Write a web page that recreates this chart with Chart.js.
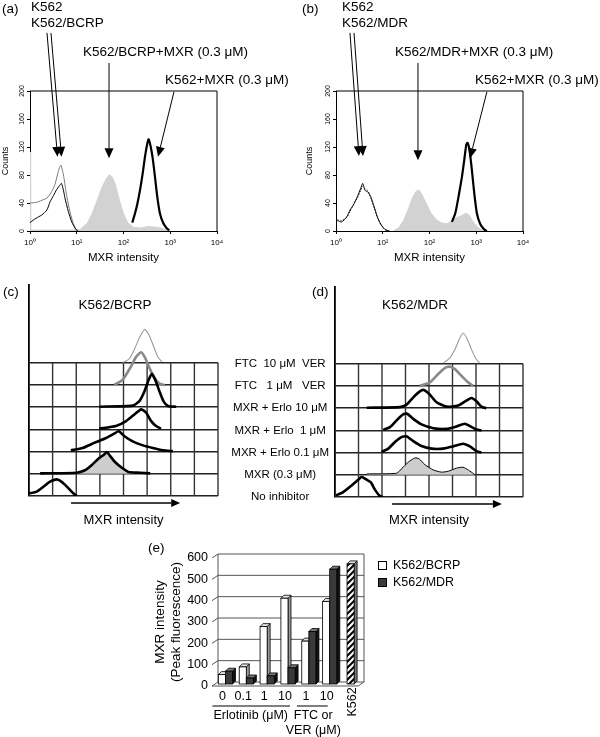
<!DOCTYPE html>
<html>
<head>
<meta charset="utf-8">
<title>MXR intensity</title>
<script src="https://cdn.jsdelivr.net/npm/chart.js@4.4.1/dist/chart.umd.min.js"></script>
<style>
  html, body { margin: 0; padding: 0; background: #fff; }
  #fig { position: relative; width: 600px; height: 737px; overflow: hidden;
         font-family: "Liberation Sans", Arial, sans-serif; color: #000; }
  #fig canvas { position: absolute; }
  .lbl { position: absolute; white-space: pre; font-size: 13.5px; line-height: 16px; }
  .mid { transform: translateX(-50%); }
</style>
</head>
<body>
<div id="fig">
  <canvas id="chartA" width="300" height="275" style="left:0;top:0"></canvas>
  <canvas id="chartB" width="300" height="275" style="left:300px;top:0"></canvas>
  <canvas id="chartC" width="228" height="260" style="left:0;top:280px"></canvas>
  <canvas id="chartD" width="300" height="260" style="left:228px;top:280px"></canvas>
  <canvas id="chartE" width="330" height="197" style="left:150px;top:540px"></canvas>

  <div class="lbl" style="left:2px;top:1px">(a)</div>
  <div class="lbl" style="left:31px;top:-1px">K562</div>
  <div class="lbl" style="left:31px;top:15px">K562/BCRP</div>
  <div class="lbl" style="left:83px;top:44px">K562/BCRP+MXR (0.3 μM)</div>
  <div class="lbl" style="left:165px;top:72px">K562+MXR (0.3 μM)</div>

  <div class="lbl" style="left:302px;top:1px">(b)</div>
  <div class="lbl" style="left:342px;top:-1px">K562</div>
  <div class="lbl" style="left:342px;top:15px">K562/MDR</div>
  <div class="lbl" style="left:395px;top:44px">K562/MDR+MXR (0.3 μM)</div>
  <div class="lbl" style="left:475px;top:72px">K562+MXR (0.3 μM)</div>

  <div class="lbl" style="left:3px;top:284px">(c)</div>
  <div class="lbl mid" style="left:115px;top:297px">K562/BCRP</div>
  <div class="lbl" style="left:312px;top:284px">(d)</div>
  <div class="lbl mid" style="left:415px;top:297px">K562/MDR</div>

  <div class="lbl" style="left:148px;top:540px">(e)</div>
</div>

<script>
// ---- (a) K562/BCRP flow histograms: [MXR intensity, counts]
const aK562 = [[1,12],[1.2,16],[1.5,20],[1.8,23],[2.3,30],[2.7,42],[3.2,51],[3.7,59],[4.2,64],[4.7,68],[5.2,58],[5.6,47],[6.6,28],[7.8,13],[9.2,4],[10.3,0]];
const aBCRP = [[1,40],[1.4,41],[1.8,44],[2.3,47],[2.9,56],[3.4,66],[3.85,80],[4.25,90],[4.6,94],[5.2,80],[5.9,56],[6.9,32],[8.2,13],[9.6,3],[10.8,0]];
const aBCRPMXR = [[1,113],[1.06,113],[1.07,2],[3,2],[8,2],[11.7,3],[16.3,11],[20.9,25],[26.7,44],[34,63],[42,75],[49.8,81],[58.6,77],[69,66],[84,44],[102,25],[126,12],[163,6],[225,5],[339,7],[513,6],[712,4],[910,0]];
const aK562MXR = [[154,12],[176,25],[198,39],[225,58],[257,82],[288,106],[323,125],[345,131],[383,120],[421,104],[472,77],[527,49],[602,25],[712,11],[840,4],[955,1]];

// ---- (b) K562/MDR flow histograms
const bK562 = [[1.07,15],[1.32,13],[1.69,20],[2.0,30],[2.35,37],[2.86,49],[3.38,61],[3.73,68],[4.18,58],[4.77,56],[5.53,49],[6.52,35],[7.69,20],[9.06,10],[11.2,2],[13.9,0]];
const bMDR = [[1.07,16],[1.32,15],[1.69,19],[2.0,28],[2.35,38],[2.86,47],[3.38,58],[3.73,64],[4.18,60],[4.77,58],[5.53,47],[6.52,33],[7.69,19],[9.06,9],[11.2,2],[13.9,0]];
const bMDRMXR = [[16.9,1],[21.7,5],[27.7,16],[33.8,30],[41.8,47],[51.8,58],[61,59],[72,51],[87.7,39],[112,25],[144,16],[184,12],[235,11],[301,15],[385,20],[493,23],[601,26],[720,23],[877,13],[1122,5],[1560,0]];
const bK562MXR = [[301,13],[355,25],[418,49],[493,77],[553,101],[611,123],[652,126],[720,115],[807,87],[906,54],[1033,25],[1218,10],[1484,2],[1693,0]];

const flowDecades = [1, 10, 100, 1000, 10000];
const countTicks = [0, 40, 80, 120, 160, 200];
const supDigits = ['\u2070', '\u00b9', '\u00b2', '\u00b3', '\u2074'];

// arrows [fromX, fromCount, toX, toCount]
const aArrows = [[2.31, 283, 3.88, 106], [2.81, 283, 4.72, 106], [49, 240, 49, 104], [1203, 199, 547, 106]];
const bArrows = [[1.99, 283, 3.1, 107], [2.43, 283, 3.78, 107], [56.7, 240, 56.7, 101], [1693, 199, 735, 104]];

// ---- (c)/(d) stacked histograms: [column, height above its row]
const rowLabels = ['No inhibitor', 'MXR (0.3 μM)', 'MXR + Erlo 0.1 μM', 'MXR + Erlo  1 μM', 'MXR + Erlo 10 μM', 'FTC   1 μM   VER', 'FTC  10 μM  VER'];
const gridColumns = [1, 2, 3, 4, 5, 6, 7, 8];

const cNone = [[0,0.12],[0.33,0.2],[0.61,0.42],[0.89,0.65],[1.17,0.75],[1.31,0.69],[1.53,0.5],[1.74,0.27],[1.91,0.09],[2.02,0]];
const cMXR = [[0.47,0.02],[2.02,0.05],[2.37,0.16],[2.66,0.4],[2.94,0.68],[3.18,0.87],[3.29,0.98],[3.43,0.81],[3.64,0.53],[3.93,0.27],[4.21,0.08],[4.7,0.05],[5.13,0.02]];
const cErlo01 = [[1.77,0.06],[2.27,0.16],[2.76,0.39],[3.26,0.61],[3.61,0.81],[3.8,0.91],[4.04,0.69],[4.39,0.46],[4.82,0.28],[5.24,0.16],[5.67,0.06],[6.09,0.02]];
const cErlo1 = [[2.97,0.03],[3.68,0.15],[4.11,0.37],[4.46,0.67],[4.75,0.9],[4.96,0.75],[5.17,0.37],[5.38,0.15],[5.59,0.03]];
const cErlo10 = [[2.97,0.02],[4.39,0.07],[4.67,0.27],[4.89,0.72],[5.07,1.24],[5.2,1.5],[5.34,1.24],[5.52,0.72],[5.69,0.27],[5.88,0.05],[6.23,0.02]];
const cFTC1 = [[3.61,0],[3.97,0.24],[4.32,0.84],[4.53,1.26],[4.75,1.47],[4.92,1.21],[5.1,0.76],[5.31,0.31],[5.52,0.06],[5.74,0]];
const cFTC10 = [[3.97,0],[4.25,0.18],[4.46,0.6],[4.67,1.12],[4.89,1.5],[5.07,1.27],[5.27,0.75],[5.45,0.27],[5.64,0.03]];

const dNone = [[0.04,0.07],[0.35,0.22],[0.71,0.52],[0.99,0.78],[1.13,0.9],[1.35,0.78],[1.52,0.67],[1.7,0.33],[1.88,0.07],[2.03,0]];
const dMXR = [[1.35,0.04],[2.62,0.07],[2.83,0.27],[3.12,0.57],[3.4,0.76],[3.58,0.72],[3.82,0.46],[4.18,0.22],[4.53,0.12],[4.82,0.16],[5.17,0.3],[5.45,0.34],[5.67,0.22],[5.91,0.04]];
const dErlo01 = [[1.98,0.03],[2.27,0.18],[2.55,0.48],[2.83,0.7],[3.05,0.73],[3.33,0.52],[3.68,0.3],[4.11,0.18],[4.6,0.18],[5.03,0.28],[5.45,0.4],[5.74,0.28],[6.02,0.07],[6.23,0]];
const dErlo1 = [[2.05,0.03],[2.34,0.15],[2.62,0.45],[2.9,0.72],[3.07,0.75],[3.33,0.52],[3.68,0.27],[4.18,0.1],[4.75,0.07],[5.17,0.18],[5.52,0.3],[5.76,0.18],[6.02,0.04],[6.23,0]];
const dErlo10 = [[1.35,0.02],[2.76,0.05],[3.05,0.16],[3.33,0.49],[3.61,0.76],[3.78,0.82],[4.01,0.64],[4.32,0.27],[4.75,0.07],[5.24,0.12],[5.59,0.34],[5.81,0.46],[6.02,0.31],[6.23,0.07],[6.44,0]];
const dVER1 = [[3.61,0.01],[4.04,0.16],[4.39,0.54],[4.67,0.81],[4.89,0.87],[5.1,0.76],[5.38,0.46],[5.67,0.16],[5.88,0.01]];
const dVER10 = [[4.6,0.03],[4.89,0.27],[5.1,0.64],[5.28,1.09],[5.45,1.39],[5.62,1.13],[5.81,0.64],[5.99,0.24],[6.16,0.03]];

// ---- (e) peak fluorescence bars
const eCategories = ['0', '0.1', '1', '10', '1', '10', 'K562'];
const eBCRP = [44, 80, 269, 402, 201, 387, null];
const eMDR = [60, 28, 38, 76, 246, 538, null];
const eK562 = [null, null, null, null, null, null, 563];
const eTicks = [0, 100, 200, 300, 400, 500, 600];

Chart.defaults.font.family = '"Liberation Sans", Arial, sans-serif';
Chart.defaults.color = '#000';
Chart.defaults.animation = false;
Chart.defaults.responsive = false;
Chart.defaults.plugins.legend.display = false;
Chart.defaults.plugins.tooltip.enabled = false;
Chart.defaults.elements.point.radius = 0;

const FONT = '"Liberation Sans", Arial, sans-serif';
const xy = pts => pts.map(p => ({ x: p[0], y: p[1] }));
const onRow = (pts, row) => pts.map(p => ({ x: p[0], y: row + p[1] }));

// pin the axis box sizes so the plot areas land where the figure has them
const fitBox = (w, h) => s => {
    if (w !== null) s.width = w;
    if (h !== null) s.height = h;
    s.paddingLeft = s.paddingRight = s.paddingTop = s.paddingBottom = 0;
};

function drawArrow(ctx, x0, y0, x1, y1, len, half) {
    const a = Math.atan2(y1 - y0, x1 - x0);
    const bx = x1 - len * Math.cos(a), by = y1 - len * Math.sin(a);
    ctx.beginPath(); ctx.moveTo(x0, y0); ctx.lineTo(bx, by); ctx.stroke();
    ctx.beginPath(); ctx.moveTo(x1, y1);
    ctx.lineTo(bx + half * Math.sin(a), by - half * Math.cos(a));
    ctx.lineTo(bx - half * Math.sin(a), by + half * Math.cos(a));
    ctx.closePath(); ctx.fill();
}

// box, rotated count labels and the pointer arrows of (a)/(b)
function flowDecor(arrows) {
    return {
        id: 'flowDecor',
        afterDraw(chart) {
            const { ctx, chartArea: a, scales: { x, y } } = chart;
            ctx.save();
            ctx.strokeStyle = '#000'; ctx.fillStyle = '#000'; ctx.lineWidth = 1;
            ctx.beginPath(); ctx.moveTo(a.left, a.top); ctx.lineTo(a.right, a.top); ctx.lineTo(a.right, a.bottom); ctx.stroke();
            ctx.font = '7px ' + FONT; ctx.textAlign = 'center'; ctx.textBaseline = 'middle';
            y.ticks.forEach(t => {
                ctx.save();
                ctx.translate(a.left - 8, y.getPixelForValue(t.value));
                ctx.rotate(-Math.PI / 2);
                ctx.fillText(String(t.value), 0, 0);
                ctx.restore();
            });
            arrows.forEach(r => drawArrow(ctx, x.getPixelForValue(r[0]), y.getPixelForValue(r[1]),
                x.getPixelForValue(r[2]), y.getPixelForValue(r[3]), 10, 4.5));
            ctx.restore();
        }
    };
}

function flowChart(id, yWidth, padRight, titlePad, datasets, arrows) {
    return new Chart(document.getElementById(id), {
        type: 'scatter',
        data: { datasets: datasets },
        options: {
            layout: { padding: { top: 91, right: padRight, left: 0, bottom: 0 } },
            scales: {
                x: {
                    type: 'logarithmic', min: 1, max: 10000,
                    afterFit: fitBox(null, 44),
                    afterBuildTicks: s => { s.ticks = flowDecades.map(v => ({ value: v })); },
                    ticks: { font: { size: 8 }, padding: 4, maxRotation: 0, autoSkip: false,
                             callback: v => '10' + supDigits[Math.round(Math.log10(v))] },
                    grid: { drawOnChartArea: false, tickLength: 3, color: '#000' },
                    border: { color: '#000', width: 1 },
                    title: { display: true, text: 'MXR intensity', font: { size: 11.5 }, padding: { top: 0, bottom: 10 } }
                },
                y: {
                    min: 0, max: 200,
                    afterFit: fitBox(yWidth, null),
                    afterBuildTicks: s => { s.ticks = countTicks.map(v => ({ value: v })); },
                    ticks: { display: false },
                    grid: { drawOnChartArea: false, tickLength: 3, color: '#000' },
                    border: { color: '#000', width: 1 },
                    title: { display: true, text: 'Counts', font: { size: 9 }, padding: { top: titlePad, bottom: 0 } }
                }
            }
        },
        plugins: [flowDecor(arrows)]
    });
}

const line = (data, color, width, extra) => Object.assign({ data: xy(data), borderColor: color, borderWidth: width, showLine: true, tension: 0.2 }, extra || {});
const fillArea = data => ({ data: xy(data), showLine: true, tension: 0, borderWidth: 0, borderColor: 'rgba(0,0,0,0)', backgroundColor: '#d2d2d2', fill: 'origin' });

flowChart('chartA', 30, 83, 0, [
    line(aK562MXR, '#000', 2.2, { label: 'K562+MXR (0.3 μM)' }),
    line(aK562, '#000', 1, { label: 'K562' }),
    line(aBCRP, '#7a7a7a', 1, { label: 'K562/BCRP' }),
    Object.assign(fillArea(aBCRPMXR), { label: 'K562/BCRP+MXR (0.3 μM)' })
], aArrows);

flowChart('chartB', 36, 77, 4.6, [
    line(bK562MXR, '#000', 2.2, { label: 'K562+MXR (0.3 μM)' }),
    line(bK562, '#000', 1, { label: 'K562' }),
    line(bMDR, '#333', 1, { label: 'K562/MDR', borderDash: [1.5, 1.5] }),
    Object.assign(fillArea(bMDRMXR), { label: 'K562/MDR+MXR (0.3 μM)' })
], bArrows);

// ---- (c)/(d)
const rowStyles = {
    thick: { borderColor: '#000', borderWidth: 2.6 },
    thickFill: { borderColor: '#000', borderWidth: 2.6, backgroundColor: '#cdcdcd' },
    thinFill: { borderColor: '#000', borderWidth: 1, backgroundColor: '#cdcdcd' },
    grayThick: { borderColor: '#8a8a8a', borderWidth: 2.6 },
    grayThin: { borderColor: '#9a9a9a', borderWidth: 1.1 }
};
const cStyle = ['thick', 'thickFill', 'thick', 'thick', 'thick', 'grayThick', 'grayThin'];
const dStyle = ['thick', 'thinFill', 'thick', 'thick', 'thick', 'grayThick', 'grayThin'];

function rowDecor(arrowSpan) {
    return {
        id: 'rowDecor',
        beforeDatasetsDraw(chart) {
            const { ctx, scales: { x, y } } = chart;
            ctx.save(); ctx.strokeStyle = '#333'; ctx.lineWidth = 1.4;
            gridColumns.forEach(c => {
                const px = x.getPixelForValue(c);
                ctx.beginPath();
                ctx.moveTo(px, y.getPixelForValue(0));
                ctx.lineTo(px, y.getPixelForValue(rowLabels.length - 1));
                ctx.stroke();
            });
            ctx.restore();
        },
        afterDraw(chart) {
            const { ctx, chartArea: a, scales: { x } } = chart;
            ctx.save(); ctx.strokeStyle = '#000'; ctx.fillStyle = '#000'; ctx.lineWidth = 1.3;
            drawArrow(ctx, x.getPixelForValue(arrowSpan[0]), a.bottom + 7, x.getPixelForValue(arrowSpan[1]), a.bottom + 7, 9, 4);
            ctx.restore();
        }
    };
}

function rowChart(id, o) {
    const datasets = o.rows.map((pts, r) => Object.assign({
        label: rowLabels[r], data: onRow(pts, r), showLine: true, tension: 0.2,
        fill: o.styles[r].indexOf('Fill') > 0 ? { value: r } : false
    }, rowStyles[o.styles[r]]));
    return new Chart(document.getElementById(id), {
        type: 'scatter',
        data: { datasets: datasets },
        options: {
            layout: { padding: { top: o.padTop, right: o.padRight, left: 0, bottom: 0 } },
            scales: {
                x: {
                    min: 0, max: 8,
                    afterFit: fitBox(null, o.xHeight),
                    ticks: { display: false },
                    grid: { display: false, drawTicks: false },
                    border: { display: false },
                    title: { display: true, text: 'MXR intensity', font: { size: 13 }, padding: { top: 0, bottom: o.titleBottom } }
                },
                y: {
                    min: 0, max: o.yMax,
                    afterFit: fitBox(o.yWidth, null),
                    afterBuildTicks: s => { s.ticks = rowLabels.map((_, i) => ({ value: i })); },
                    ticks: { display: o.showLabels, crossAlign: 'center', padding: 6, font: { size: 11.5 },
                             callback: v => rowLabels[v] },
                    grid: { color: '#222', lineWidth: 1.6, drawTicks: false },
                    border: { display: true, color: '#000', width: 1.8 }
                }
            }
        },
        plugins: [rowDecor(o.arrow)]
    });
}

rowChart('chartC', {
    rows: [cNone, cMXR, cErlo01, cErlo1, cErlo10, cFTC1, cFTC10], styles: cStyle,
    padTop: 5, padRight: 10, xHeight: 44, yWidth: 29, yMax: 9.5, titleBottom: 12.2,
    showLabels: false, arrow: [1.78, 6.4]
});
rowChart('chartD', {
    rows: [dNone, dMXR, dErlo01, dErlo1, dErlo10, dVER1, dVER10], styles: dStyle,
    padTop: 7, padRight: 5, xHeight: 43, yWidth: 107, yMax: 9.46, titleBottom: 12.2,
    showLabels: true, arrow: [2.43, 7.1]
});

// ---- (e) pseudo-3D bar chart
function hatchPattern() {
    const c = document.createElement('canvas');
    c.width = 6; c.height = 6;
    const g = c.getContext('2d');
    g.fillStyle = '#fff'; g.fillRect(0, 0, 6, 6);
    g.strokeStyle = '#000'; g.lineWidth = 2;
    g.beginPath();
    g.moveTo(-1, 7); g.lineTo(7, -1);
    g.moveTo(-4, 4); g.lineTo(4, -4);
    g.moveTo(2, 10); g.lineTo(10, 2);
    g.stroke();
    return g.createPattern(c, 'repeat');
}

const bar3d = {
    id: 'bar3d',
    beforeDatasetsDraw(chart) {
        const { ctx, chartArea: a, scales: { y } } = chart;
        const dx = 6, dy = 4;
        const y0 = y.getPixelForValue(0), yTop = y.getPixelForValue(eTicks[eTicks.length - 1]);
        ctx.save();
        ctx.strokeStyle = '#555'; ctx.lineWidth = 1;
        y.ticks.forEach(t => {
            const py = y.getPixelForValue(t.value);
            ctx.beginPath(); ctx.moveTo(a.left, py); ctx.lineTo(a.left + dx, py - dy); ctx.lineTo(a.right + dx, py - dy); ctx.stroke();
        });
        ctx.beginPath();
        ctx.moveTo(a.left + dx, y0 - dy); ctx.lineTo(a.left + dx, yTop - dy);
        ctx.moveTo(a.right + dx, y0 - dy); ctx.lineTo(a.right + dx, yTop - dy);
        ctx.moveTo(a.left, y0); ctx.lineTo(a.right, y0); ctx.lineTo(a.right + dx, y0 - dy);
        ctx.stroke();
        ctx.restore();
        ctx.save();
        ctx.translate(3, -2);   // bars stand in the middle of the floor depth
    },
    afterDatasetsDraw(chart) {
        const { ctx } = chart;
        const d = 3;
        chart.data.datasets.forEach((ds, i) => {
            chart.getDatasetMeta(i).data.forEach((bar, j) => {
                if (ds.data[j] === null) return;
                const p = bar.getProps(['x', 'y', 'base', 'width'], true);
                const l = p.x - p.width / 2, r = p.x + p.width / 2;
                ctx.lineWidth = 0.8; ctx.strokeStyle = '#000';
                ctx.fillStyle = ds.side3d;
                ctx.beginPath(); ctx.moveTo(r, p.y); ctx.lineTo(r + d, p.y - d); ctx.lineTo(r + d, p.base - d); ctx.lineTo(r, p.base); ctx.closePath(); ctx.fill(); ctx.stroke();
                ctx.fillStyle = ds.top3d;
                ctx.beginPath(); ctx.moveTo(l, p.y); ctx.lineTo(l + d, p.y - d); ctx.lineTo(r + d, p.y - d); ctx.lineTo(r, p.y); ctx.closePath(); ctx.fill(); ctx.stroke();
                ctx.fillStyle = ds.backgroundColor;
                ctx.fillRect(l, p.y, p.width, p.base - p.y);
                ctx.strokeRect(l, p.y, p.width, p.base - p.y);
            });
        });
        ctx.restore();
    },
    afterDraw(chart) {
        const { ctx, chartArea: a, scales: { x } } = chart;
        ctx.save();
        ctx.fillStyle = '#000'; ctx.strokeStyle = '#000'; ctx.lineWidth = 1;
        ctx.font = '12.5px ' + FONT; ctx.textBaseline = 'middle';
        // legend
        let ly = a.top + 3;
        chart.data.datasets.forEach(ds => {
            if (ds.inLegend === false) return;
            ctx.fillStyle = ds.backgroundColor; ctx.fillRect(a.right + 20, ly, 8, 8);
            ctx.strokeRect(a.right + 20.5, ly + 0.5, 8, 8);
            ctx.fillStyle = '#000'; ctx.textAlign = 'left';
            ctx.fillText(ds.label, a.right + 35, ly + 4.5);
            ly += 17;
        });
        // rotated K562 category
        const last = eCategories.length - 1;
        ctx.save();
        ctx.translate(x.getPixelForValue(last) + 5, a.bottom + 16);
        ctx.rotate(-Math.PI / 2); ctx.textAlign = 'center';
        ctx.fillText(eCategories[last], 0, 0);
        ctx.restore();
        // group captions
        const gy = a.bottom + 20;
        ctx.beginPath();
        ctx.moveTo(x.getPixelForValue(0) - 10, gy); ctx.lineTo(x.getPixelForValue(3) + 5, gy);
        ctx.moveTo(x.getPixelForValue(4) - 9, gy); ctx.lineTo(x.getPixelForValue(5) + 1, gy);
        ctx.stroke();
        ctx.textAlign = 'center';
        ctx.fillText('Erlotinib (μM)', (x.getPixelForValue(0) + x.getPixelForValue(3)) / 2 - 3, gy + 10);
        const fx = (x.getPixelForValue(4) + x.getPixelForValue(5)) / 2 - 3;
        ctx.fillText('FTC or', fx, gy + 10);
        ctx.fillText('VER (μM)', fx, gy + 25);
        ctx.restore();
    }
};

new Chart(document.getElementById('chartE'), {
    type: 'bar',
    data: {
        labels: eCategories,
        datasets: [
            { label: 'K562/BCRP', data: eBCRP, backgroundColor: '#fff', borderColor: '#000', borderWidth: 1,
              skipNull: true, top3d: '#e2e2e2', side3d: '#9a9a9a' },
            { label: 'K562/MDR', data: eMDR, backgroundColor: '#3a3a3a', borderColor: '#000', borderWidth: 1,
              skipNull: true, top3d: '#777', side3d: '#111' },
            { label: 'K562', data: eK562, backgroundColor: hatchPattern(), borderColor: '#000', borderWidth: 1,
              skipNull: true, barPercentage: 0.5, top3d: '#ddd', side3d: '#777', inLegend: false }
        ]
    },
    options: {
        layout: { padding: { top: 18, right: 122, left: 0, bottom: 0 } },
        datasets: { bar: { barPercentage: 1, categoryPercentage: 0.68 } },
        scales: {
            x: {
                afterFit: fitBox(null, 51),
                grid: { display: false, drawTicks: false }, border: { display: false },
                ticks: { padding: 3, font: { size: 12.5 }, maxRotation: 0, autoSkip: false,
                         callback: (v, i) => i === eCategories.length - 1 ? '' : eCategories[i] }
            },
            y: {
                min: 0, max: 600,
                afterFit: fitBox(62, null),
                afterBuildTicks: s => { s.ticks = eTicks.map(v => ({ value: v })); },
                grid: { display: false, drawTicks: false }, border: { display: false },
                ticks: { padding: 4, font: { size: 12.5 } },
                title: { display: true, text: ['MXR intensity', '(Peak fluorescence)'], font: { size: 13.5 },
                         padding: { top: 2, bottom: 0 } }
            }
        }
    },
    plugins: [bar3d]
});
</script>
</body>
</html>
